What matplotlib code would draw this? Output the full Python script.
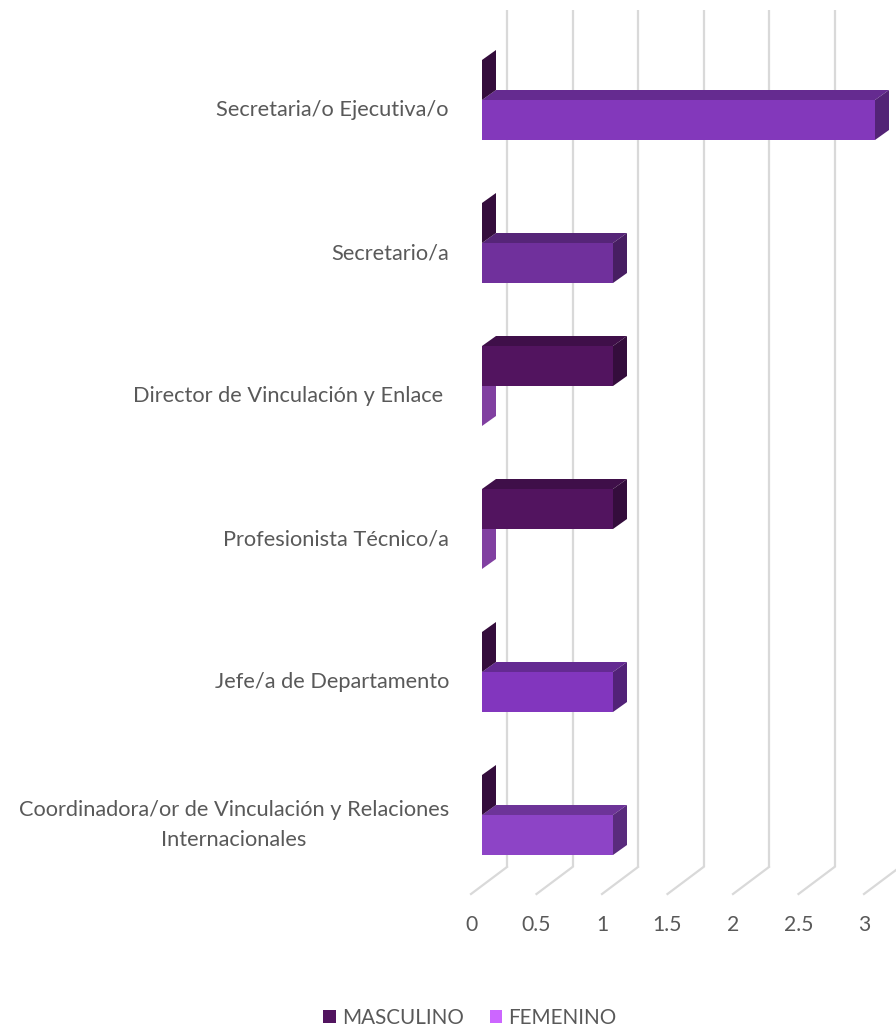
import matplotlib
matplotlib.use("Agg")
import matplotlib.pyplot as plt
from matplotlib.patches import Polygon, Patch
from matplotlib.colors import to_rgb

# ---------------- data ----------------
categories = [
    "Secretaria/o Ejecutiva/o",
    "Secretario/a",
    "Director de Vinculación y Enlace ",
    "Profesionista Técnico/a",
    "Jefe/a de Departamento",
    "Coordinadora/or de Vinculación y Relaciones\nInternacionales",
]
masculino = [0, 0, 1, 1, 0, 0]
femenino = [3, 1, 0, 0, 1, 1]
x_ticks = [0, 0.5, 1, 1.5, 2, 2.5, 3]
x_tick_labels = ["0", "0.5", "1", "1.5", "2", "2.5", "3"]
series_names = ["MASCULINO", "FEMENINO"]

# ---------------- styles ----------------
masc_color = "#52145F"
fem_legend_color = "#CC66FF"
fem_bar_colors = ["#8338BB", "#70309C", "#CC66FF", "#CC66FF", "#8236BE", "#8D44C6"]
grid_color = "#D9D9D9"
text_color = "#595959"
FONT = ["Lato", "DejaVu Sans"]

W, H = 896, 1030
fig = plt.figure(figsize=(W / 100, H / 100), dpi=100)
ax = fig.add_axes([0, 0, 1, 1])
ax.axis("off")

# scales: 131 px per value unit, 143 px per category
px_x, px_y = 131.0, 143.0
x0_px, y0_px = 482.0, 100.0
ax.set_xlim(-x0_px / px_x, (W - x0_px) / px_x)
ax.set_ylim((H - y0_px) / px_y, -y0_px / px_y)

bar_h = 40 / px_y
dxb, dyb = 14 / px_x, -10 / px_y          # bar depth
dxg, dyg = 25 / px_x, -19 / px_y          # back wall offset from bar front
dxf, dyf = -11 / px_x, 8 / px_y           # floor front offset from bar front
floor_back_y = (867 - y0_px) / px_y
grid_top_y = (10 - y0_px) / px_y


def shade(c, f):
    r, g, b = to_rgb(c)
    return (r * f, g * f, b * f)


# gridlines (back wall + floor diagonals)
for t, lab in zip(x_ticks, x_tick_labels):
    xb = t + dxg
    ax.plot([xb, xb], [grid_top_y, floor_back_y], color=grid_color, lw=1.6,
            zorder=1, solid_capstyle="butt", clip_on=False)
    ax.plot([xb, t + dxf], [floor_back_y, floor_back_y + (dyf - dyg)],
            color=grid_color, lw=1.6, zorder=1, clip_on=False)
    ax.text(t + dxf, (925 - y0_px) / px_y, lab,
            ha="center", va="center", fontsize=15.2, color=text_color,
            family=FONT)


def bar3d(y_top, v, color, z):
    yb = y_top + bar_h
    front = [(0, y_top), (v, y_top), (v, yb), (0, yb)]
    top = [(0, y_top), (v, y_top), (v + dxb, y_top + dyb), (dxb, y_top + dyb)]
    side = [(v, y_top), (v + dxb, y_top + dyb), (v + dxb, yb + dyb), (v, yb)]
    if v > 0:
        ax.add_patch(Polygon(top, closed=True, fc=shade(color, 0.77), ec="none", zorder=z))
        ax.add_patch(Polygon(front, closed=True, fc=color, ec="none", zorder=z))
    ax.add_patch(Polygon(side, closed=True, fc=shade(color, 0.63), ec="none", zorder=z))


for i, cat in enumerate(categories):
    bar3d(i, femenino[i], fem_bar_colors[i], 2)
    bar3d(i - bar_h, masculino[i], masc_color, 3)
    ax.text(449 / px_x - x0_px / px_x, i + 10 / px_y, cat, ha="right", va="center",
            multialignment="center", fontsize=15.7, color=text_color,
            family=FONT, linespacing=1.6)

handles = [Patch(fc=masc_color, ec="none"), Patch(fc=fem_legend_color, ec="none")]
fig.legend(handles, series_names, loc="center", bbox_to_anchor=(470 / W, 1 - 1018 / H),
           ncol=2, frameon=False, handlelength=0.6, handleheight=0.6,
           handletextpad=0.3, columnspacing=1.25,
           prop={"family": FONT, "size": 14.9}, labelcolor=text_color)

fig.savefig("out.png", dpi=100, facecolor="white")
